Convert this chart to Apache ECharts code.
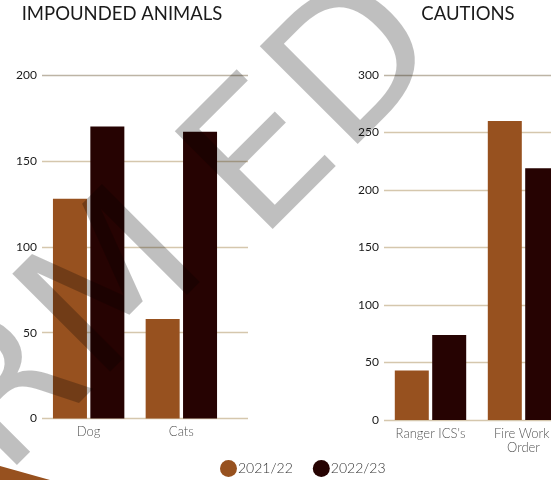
<!DOCTYPE html>
<html>
<head>
<meta charset="utf-8">
<script src="https://cdn.jsdelivr.net/npm/echarts@6/dist/echarts.min.js"></script>
<style>html,body{margin:0;padding:0;background:#fff}#c{width:551px;height:480px}</style>
</head>
<body>
<div id="c"></div>
<script>
const seriesNames = ['2021/22', '2022/23'];
const animalCategories = ['Dog', 'Cats'];
const animals2021 = [128, 58];
const animals2022 = [170, 167];
const cautionCategories = ["Ranger ICS's", 'Fire Work Order'];
const cautions2021 = [43, 260];
const cautions2022 = [74, 219];
const animalTicks = { min: 0, max: 200, interval: 50 };
const cautionTicks = { min: 0, max: 300, interval: 50 };
const watermarkParts = ['UNCONFIRM', 'ED'];

const C1 = '#97511f', C2 = '#260302';
const font = 'Lato, "Noto Sans", sans-serif';
const gridCols5 = ['#d5c7ad', '#d5c7ad', '#d5c7ad', '#d5c7ad', '#bdb4a5'];
const gridCols7 = ['#d5c7ad', '#d5c7ad', '#d5c7ad', '#d5c7ad', '#d5c7ad', '#d5c7ad', '#bdb4a5'];
const wmStyle = { font: '190px "DejaVu Sans", sans-serif', fill: 'rgba(0,0,0,0.25)', textAlign: 'right', textVerticalAlign: 'middle' };

const chart = echarts.init(document.getElementById('c'), null, { renderer: 'canvas' });
const barCommon = { type: 'bar', barWidth: 34, barGap: '10%' };
chart.setOption({
  animation: false,
  color: [C1, C2],
  title: [
    { text: 'IMPOUNDED ANIMALS', left: 122, top: 5, padding: 0, textAlign: 'center',
      textStyle: { fontFamily: font, fontWeight: 'normal', fontSize: 18.5, color: '#1a1a1a' } },
    { text: 'CAUTIONS', left: 468, top: 5, padding: 0, textAlign: 'center',
      textStyle: { fontFamily: font, fontWeight: 'normal', fontSize: 18.5, color: '#1a1a1a' } }
  ],
  legend: {
    data: seriesNames, left: 220, top: 460, padding: 0, icon: 'circle', itemWidth: 17, itemHeight: 17, itemGap: 20,
    textStyle: { fontFamily: font, fontWeight: 300, fontSize: 14, color: '#333', padding: [0, 0, 0, -4] }
  },
  grid: [
    { left: 42, right: 303, top: 75, bottom: 61.5, outerBoundsMode: 'none', containLabel: false },
    { left: 42.3, width: 185.4, top: 75, bottom: 61.5, outerBoundsMode: 'none', containLabel: false },
    { left: 384, width: 186, top: 75, bottom: 60, outerBoundsMode: 'none', containLabel: false }
  ],
  xAxis: [
    { gridIndex: 0, type: 'category', data: [''], show: false },
    { gridIndex: 1, type: 'category', data: animalCategories, axisLine: { show: false }, axisTick: { show: false },
      axisLabel: { margin: 7, fontFamily: font, fontWeight: 300, fontSize: 13, color: '#555' } },
    { gridIndex: 2, type: 'category', data: cautionCategories, axisLine: { show: false }, axisTick: { show: false },
      axisLabel: { margin: 7, fontFamily: font, fontWeight: 300, fontSize: 13, color: '#555', lineHeight: 14,
        width: 80, overflow: 'break', interval: 0 } }
  ],
  yAxis: [
    { gridIndex: 0, type: 'value', min: animalTicks.min, max: animalTicks.max, interval: animalTicks.interval,
      axisLine: { show: false }, axisTick: { show: false },
      axisLabel: { margin: 5, fontFamily: font, fontSize: 12, color: '#1a1a1a' },
      splitLine: { lineStyle: { color: gridCols5, width: 1.3 } } },
    { gridIndex: 1, type: 'value', min: animalTicks.min, max: animalTicks.max, interval: animalTicks.interval, show: false,
      splitLine: { show: false } },
    { gridIndex: 2, type: 'value', min: cautionTicks.min, max: cautionTicks.max, interval: cautionTicks.interval,
      axisLine: { show: false }, axisTick: { show: false },
      axisLabel: { margin: 5, fontFamily: font, fontSize: 12, color: '#1a1a1a' },
      splitLine: { lineStyle: { color: gridCols7, width: 1.3 } } }
  ],
  series: [
    Object.assign({ name: seriesNames[0], xAxisIndex: 1, yAxisIndex: 1, data: animals2021, itemStyle: { color: C1 } }, barCommon),
    Object.assign({ name: seriesNames[1], xAxisIndex: 1, yAxisIndex: 1, data: animals2022, itemStyle: { color: C2 } }, barCommon),
    Object.assign({ name: seriesNames[0], xAxisIndex: 2, yAxisIndex: 2, data: cautions2021, itemStyle: { color: C1 } }, barCommon),
    Object.assign({ name: seriesNames[1], xAxisIndex: 2, yAxisIndex: 2, data: cautions2022, itemStyle: { color: C2 } }, barCommon)
  ],
  graphic: [
    { type: 'polygon', z: 50, silent: true, shape: { points: [[0, 466], [50, 480], [0, 480]] }, style: { fill: C1 } },
    { type: 'text', z: 100, silent: true, x: 178, y: 234, rotation: Math.PI / 4,
      style: Object.assign({ text: watermarkParts[0] }, wmStyle) },
    { type: 'text', z: 100, silent: true, x: 413, y: 19, rotation: Math.PI / 4,
      style: Object.assign({ text: watermarkParts[1] }, wmStyle) }
  ]
});
</script>
</body>
</html>
